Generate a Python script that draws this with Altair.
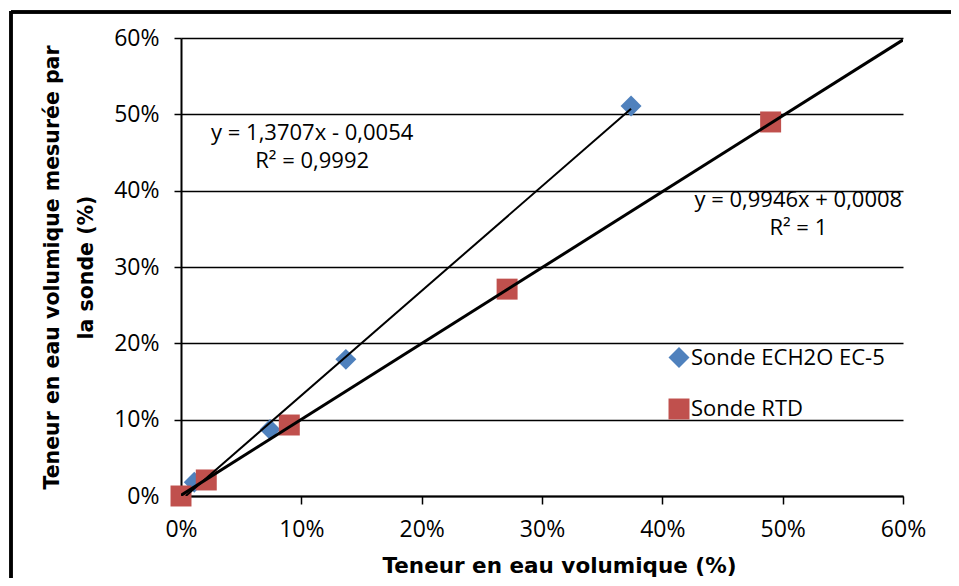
import altair as alt
import pandas as pd

# ---- data ----
series_names = ["Sonde ECH2O EC-5", "Sonde RTD"]
ech2o_x = [0.011, 0.074, 0.137, 0.374]
ech2o_y = [0.018, 0.087, 0.179, 0.511]
rtd_x = [0.0, 0.021, 0.090, 0.271, 0.490]
rtd_y = [0.0, 0.021, 0.093, 0.271, 0.490]

# trendline equations (slope, intercept) and drawn x-range
trend_slope = [1.3707, 0.9946]
trend_intercept = [-0.0054, 0.0008]
trend_x_start = [0.004, 0.0]
trend_x_end = [0.374, 0.6]
trend_width = [2.0, 3.0]

# equation labels
eq_text = [["y = 1,3707x - 0,0054", "R² = 0,9992"], ["y = 0,9946x + 0,0008", "R² = 1"]]
eq_x = [0.109, 0.513]
eq_y = [0.467, 0.378]
eq_lineheight = [28, 28]

tick_values = [0, 0.1, 0.2, 0.3, 0.4, 0.5, 0.6]

# ---- tables ----
points = pd.DataFrame(
    {"serie": [series_names[0]] * len(ech2o_x) + [series_names[1]] * len(rtd_x),
     "x": ech2o_x + rtd_x,
     "y": ech2o_y + rtd_y,
     "ordre": list(range(len(ech2o_x) + len(rtd_x)))}
)

lines_rows = []
for i in range(2):
    for xv in (trend_x_start[i], trend_x_end[i]):
        lines_rows.append({"serie": series_names[i], "x": xv,
                           "y": trend_slope[i] * xv + trend_intercept[i]})
lines = pd.DataFrame(lines_rows)

labels = pd.DataFrame({"txt": eq_text, "x": eq_x, "y": eq_y})

W, H = 722, 458
LABEL_FONT = "Open Sans"
TITLE_FONT = "DejaVu Sans"
LBL = 23

xscale = alt.Scale(domain=[0, 0.6], nice=False, zero=False)
yscale = alt.Scale(domain=[0, 0.6], nice=False, zero=False)

xaxis = alt.Axis(
    values=tick_values, format=".0%", grid=False,
    domainColor="black", domainWidth=2,
    tickColor="black", tickWidth=1.5, tickSize=8,
    labelFont=LABEL_FONT, labelFontSize=LBL, labelColor="black", labelPadding=14,
    labelFlush=False,
    title="Teneur en eau volumique (%)",
    titleFont=TITLE_FONT, titleFontSize=21.5, titleFontWeight="bold", titleColor="black",
    titleX=378, titleY=76, titleBaseline="alphabetic", titleAlign="center",
)
yaxis = alt.Axis(
    values=tick_values, format=".0%", grid=True,
    gridColor="black", gridWidth=1.5, gridOpacity=1,
    domainColor="black", domainWidth=2,
    tickColor="black", tickWidth=1.5, tickSize=7,
    labelFont=LABEL_FONT, labelFontSize=LBL, labelColor="black", labelPadding=15,
    labelFlush=False,
    title=["Teneur en eau volumique mesurée par", "la sonde (%)"],
    titleFont=TITLE_FONT, titleFontSize=20.5, titleFontWeight="bold", titleColor="black",
    titleLineHeight=34,
    titleX=-119, titleY=H / 2, titleAngle=270, titleBaseline="bottom", titleAlign="center",
)

color_scale = alt.Scale(domain=series_names, range=["#4F81BD", "#C0504D"])
shape_scale = alt.Scale(domain=series_names, range=["diamond", "square"])

base_pts = alt.Chart(points).mark_point(filled=True, opacity=1, size=440, strokeWidth=0).encode(
    x=alt.X("x:Q", scale=xscale, axis=xaxis),
    y=alt.Y("y:Q", scale=yscale, axis=yaxis),
    color=alt.Color("serie:N", scale=color_scale, legend=alt.Legend(
        title=None, orient="none", legendX=486, legendY=308,
        labelFont=LABEL_FONT, labelFontSize=22, labelColor="black", labelOffset=0,
        labelLimit=0,
        symbolSize=440, symbolStrokeWidth=0, symbolOpacity=1,
        rowPadding=28, padding=0)),
    shape=alt.Shape("serie:N", scale=shape_scale, legend=None),
    order=alt.Order("ordre:Q"),
)

trend = alt.Chart(lines).mark_line(color="black", clip=True).encode(
    x=alt.X("x:Q", scale=xscale),
    y=alt.Y("y:Q", scale=yscale),
    detail="serie:N",
    strokeWidth=alt.StrokeWidth("serie:N", scale=alt.Scale(domain=series_names, range=trend_width), legend=None),
)

eq1 = alt.Chart(labels.iloc[[0]]).mark_text(
    font=LABEL_FONT, fontSize=22, color="black", align="center", baseline="alphabetic",
    lineHeight=eq_lineheight[0]
).encode(x=alt.X("x:Q", scale=xscale), y=alt.Y("y:Q", scale=yscale), text="txt")

eq2 = alt.Chart(labels.iloc[[1]]).mark_text(
    font=LABEL_FONT, fontSize=22, color="black", align="center", baseline="alphabetic",
    lineHeight=eq_lineheight[1]
).encode(x=alt.X("x:Q", scale=xscale), y=alt.Y("y:Q", scale=yscale), text="txt")

frame_top = alt.Chart(points).mark_rule(color="black", strokeWidth=2.5, clip=False).encode(
    x=alt.value(-170), x2=alt.value(800), y=alt.value(-26)
)
frame_left = alt.Chart(points).mark_rule(color="black", strokeWidth=2.5, clip=False).encode(
    x=alt.value(-170), y=alt.value(-27), y2=alt.value(600)
)

chart = alt.layer(base_pts, trend, eq1, eq2, frame_top, frame_left).properties(
    width=W, height=H,
    autosize=alt.AutoSizeParams(type="none"),
    padding={"left": 173, "top": 30, "right": 48, "bottom": 82},
    background="white",
).configure_view(stroke=None)

chart.save("out.html", embed_options={"renderer": "svg", "actions": False})
